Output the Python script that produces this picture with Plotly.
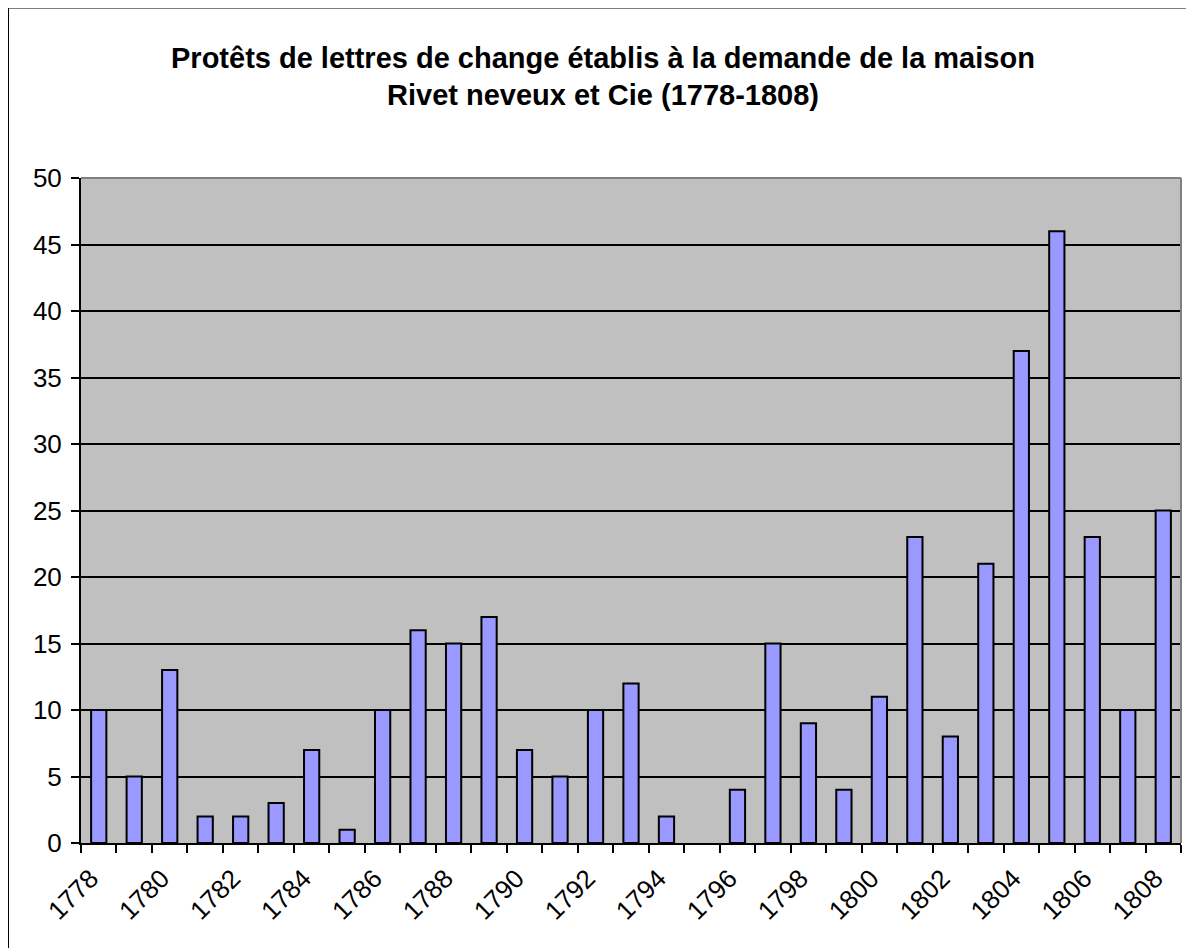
import plotly.graph_objects as go

years = [str(y) for y in range(1778, 1809)]
counts = [10, 5, 13, 2, 2, 3, 7, 1, 10, 16, 15, 17, 7, 5, 10, 12, 2, 0, 4, 15,
          9, 4, 11, 23, 8, 21, 37, 46, 23, 10, 25]
tick_text = [y if (int(y) - 1778) % 2 == 0 else "" for y in years]
y_ticks = list(range(0, 51, 5))
title_lines = ["Protêts de lettres de change établis à la demande de la maison",
               "Rivet neveux et Cie (1778-1808)"]

OFF = 8  # browser body margin
W, H = 1194 - OFF, 948 - OFF
# absolute plot area in page pixels
PX0, PX1, PY0, PY1 = 81, 1181, 178, 843
L, R, T, B = PX0 - OFF, 1194 - PX1, PY0 - OFF, 948 - PY1
pw, ph = PX1 - PX0, PY1 - PY0

def px_x(p):
    return (p - PX0) / pw

def px_y(p):
    return (PY1 - p) / ph

fig = go.Figure(go.Bar(
    x=years, y=counts, width=0.43,
    marker=dict(color="#9999FF",
                line=dict(color="black", width=[0 if v == 0 else 2 for v in counts])),
))

font = "Liberation Sans, Arial, sans-serif"

fig.update_layout(
    width=W, height=H,
    margin=dict(l=L, r=R, t=T, b=B, autoexpand=False),
    paper_bgcolor="white", plot_bgcolor="#C0C0C0",
    showlegend=False,
    font=dict(family=font, size=26, color="black"),
    xaxis=dict(type="category", tickmode="array", tickvals=years, ticktext=tick_text,
               tickson="boundaries", ticks="outside", ticklen=8, tickwidth=1.5,
               tickcolor="black", tickangle=-45, showline=True, linecolor="black",
               linewidth=2, showgrid=False, tickfont=dict(size=26),
               ticklabelshift=-8, ticklabelstandoff=8),
    yaxis=dict(range=[0, 50], tickvals=y_ticks, ticks="outside", ticklen=8,
               tickwidth=1.5, tickcolor="black", showline=True, linecolor="black",
               linewidth=2, showgrid=True, gridcolor="black", gridwidth=1.5,
               zeroline=False, tickfont=dict(size=26), ticklabelstandoff=4),
    bargap=0.57,
)

for txt, cy in zip(title_lines, [58, 95]):
    fig.add_annotation(text="<b>" + txt + "</b>", x=px_x(603), y=px_y(cy),
                       xref="paper", yref="paper", xanchor="center", yanchor="middle",
                       showarrow=False, font=dict(size=29, family=font))

# plot area border (top and right, gray)
fig.add_shape(type="line", xref="paper", yref="paper", x0=0, x1=1, y0=1, y1=1,
              line=dict(color="#808080", width=2), layer="above")
fig.add_shape(type="line", xref="paper", yref="paper", x0=1, x1=1, y0=0, y1=1,
              line=dict(color="#808080", width=2), layer="above")
# outer chart border
fig.add_shape(type="rect", xref="paper", yref="paper",
              x0=px_x(8), x1=px_x(1220), y0=px_y(980), y1=px_y(7.5),
              line=dict(color="black", width=2), layer="above")

fig.write_html("out.html")
